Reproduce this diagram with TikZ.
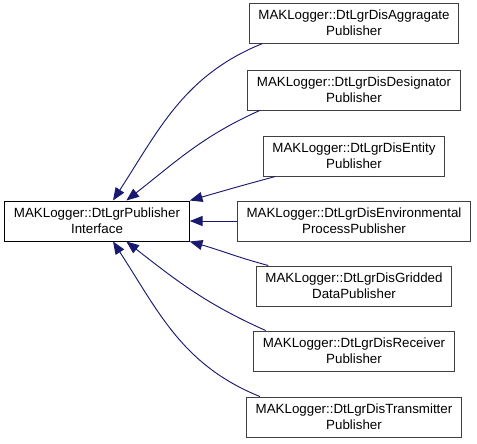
\documentclass[tikz,border=0pt]{standalone}
\usepackage{fontspec}
\setmainfont{Liberation Sans}
\usetikzlibrary{arrows.meta}

\tikzset{
  classbox/.style={draw=black!75, line width=0.75pt, fill=white, align=center,
    font=\fontsize{10}{12}\selectfont, inner xsep=7pt, minimum height=30pt},
  mainbox/.style={classbox, draw=black},
  inherit/.style={draw=midnightblue, line width=0.7pt,
    -{Triangle[length=9.5pt, width=7.5pt]}},
}
\definecolor{midnightblue}{RGB}{25,25,112}

\begin{document}
\begin{tikzpicture}[x=0.75pt, y=-0.75pt]
  \useasboundingbox (0,0) rectangle (477,443);

  % classe base
  \node[mainbox] (iface) at (97,221) {MAKLogger::DtLgrPublisher\\Interface};

  % classi derivate
  \node[classbox] (agg)   at (354,23)  {MAKLogger::DtLgrDisAggragate\\Publisher};
  \node[classbox] (des)   at (354,90)  {MAKLogger::DtLgrDisDesignator\\Publisher};
  \node[classbox] (ent)   at (354,156) {MAKLogger::DtLgrDisEntity\\Publisher};
  \node[classbox] (env)   at (354,221) {MAKLogger::DtLgrDisEnvironmental\\ProcessPublisher};
  \node[classbox] (grid)  at (354,286) {MAKLogger::DtLgrDisGridded\\DataPublisher};
  \node[classbox] (recv)  at (354,351) {MAKLogger::DtLgrDisReceiver\\Publisher};
  \node[classbox] (trans) at (354,417) {MAKLogger::DtLgrDisTransmitter\\Publisher};

  % frecce di ereditarieta
  \draw[inherit] ([xshift=10.5pt]agg.south west) to[out=202, in=57]
    ([xshift=12pt]iface.north);
  \draw[inherit] ([xshift=9.5pt]des.south west) to[out=204, in=38]
    ([xshift=22pt]iface.north);
  \draw[inherit] ([xshift=9.5pt]ent.south west) to[out=195, in=16]
    (iface.north east);
  \draw[inherit] (env.west) -- (iface.east);
  \draw[inherit] ([xshift=9.5pt]grid.north west) to[out=165, in=-16]
    (iface.south east);
  \draw[inherit] ([xshift=9.5pt]recv.north west) to[out=156, in=-38]
    ([xshift=22pt]iface.south);
  \draw[inherit] ([xshift=10.5pt]trans.north west) to[out=158, in=-57]
    ([xshift=12pt]iface.south);
\end{tikzpicture}
\end{document}
